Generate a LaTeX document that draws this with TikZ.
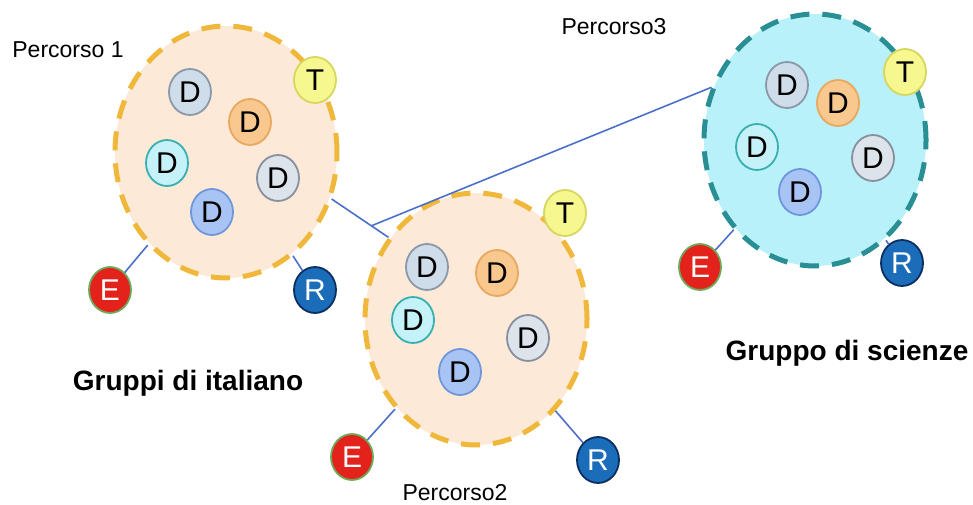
\documentclass[tikz,border=0pt]{standalone}
\usepackage{fontspec}
\setmainfont{Liberation Sans}
\usetikzlibrary{positioning,shapes.geometric,calc}

\definecolor{peach}{HTML}{FCE9D8}
\definecolor{gold}{HTML}{F0B83A}
\definecolor{skycyan}{HTML}{B8F1F9}
\definecolor{tealline}{HTML}{2A8F95}
\definecolor{linkblue}{HTML}{4C70C9}
\definecolor{greyfill}{HTML}{CFDDEB}
\definecolor{greyline}{HTML}{8A98A8}
\definecolor{orangefill}{HTML}{F9C88E}
\definecolor{orangeline}{HTML}{E8A860}
\definecolor{cyanfill}{HTML}{C4F2F8}
\definecolor{cyanline}{HTML}{3AAFB0}
\definecolor{silverfill}{HTML}{DCE3EA}
\definecolor{silverline}{HTML}{8890A0}
\definecolor{bluefill}{HTML}{A8C4F4}
\definecolor{blueline}{HTML}{6F95DA}
\definecolor{yellowfill}{HTML}{F6F78E}
\definecolor{yellowline}{HTML}{D6D660}
\definecolor{redfill}{HTML}{E3231B}
\definecolor{redline}{HTML}{6EAA5A}
\definecolor{navyfill}{HTML}{1B6DBA}
\definecolor{navyline}{HTML}{0B2F60}

\begin{document}
\begin{tikzpicture}[
    x=1pt, y=-1pt,
    group/.style={ellipse, line width=5pt, dash pattern=on 19pt off 13pt, minimum width=222pt, minimum height=252pt},
    member/.style={ellipse, line width=1.8pt, minimum width=42pt, minimum height=46pt, inner sep=0pt, font=\fontsize{30}{30}\selectfont},
    dnode/.style 2 args={member, fill=#1, draw=#2},
    teacher/.style={member, fill=yellowfill, draw=yellowline},
    enode/.style={member, fill=redfill, draw=redline, text=white},
    rnode/.style={member, fill=navyfill, draw=navyline, text=white},
    link/.style={draw=linkblue, line width=1.6pt},
    pathlabel/.style={font=\fontsize{23}{27}\selectfont},
    title/.style={font=\fontsize{28}{32}\selectfont\bfseries}
]
\useasboundingbox (0,0) rectangle (973,505);

% Groups
\node[group, draw=gold, fill=peach] (ita1) at (226,152) {};
\node[group, draw=gold, fill=peach] (ita2) at (476,319) {};
\node[group, draw=tealline, fill=skycyan] (sci) at (815,140) {};

% Members of Percorso 1
\node[dnode={greyfill}{greyline}] (ita1_d1) at (190,92) {D};
\node[dnode={orangefill}{orangeline}] (ita1_d2) at (250,122) {D};
\node[dnode={cyanfill}{cyanline}] (ita1_d3) at (167,163) {D};
\node[dnode={silverfill}{silverline}] (ita1_d4) at (278,178) {D};
\node[dnode={bluefill}{blueline}] (ita1_d5) at (212,212) {D};
\node[teacher] (ita1_t) at (315,80) {T};
\node[enode] (ita1_e) at (110,290) {E};
\node[rnode] (ita1_r) at (315,290) {R};

% Members of Percorso2
\node[dnode={greyfill}{greyline}] (ita2_d1) at (427,267) {D};
\node[dnode={orangefill}{orangeline}] (ita2_d2) at (497,273) {D};
\node[dnode={cyanfill}{cyanline}] (ita2_d3) at (413,320) {D};
\node[dnode={silverfill}{silverline}] (ita2_d4) at (528,338) {D};
\node[dnode={bluefill}{blueline}] (ita2_d5) at (460,372) {D};
\node[teacher] (ita2_t) at (565,213) {T};
\node[enode] (ita2_e) at (352,457) {E};
\node[rnode] (ita2_r) at (598,460) {R};

% Members of Percorso3
\node[dnode={greyfill}{greyline}] (sci_d1) at (787,85) {D};
\node[dnode={orangefill}{orangeline}] (sci_d2) at (838,103) {D};
\node[dnode={cyanfill}{cyanline}] (sci_d3) at (757,147) {D};
\node[dnode={silverfill}{silverline}] (sci_d4) at (873,158) {D};
\node[dnode={bluefill}{blueline}] (sci_d5) at (800,192) {D};
\node[teacher] (sci_t) at (905,72) {T};
\node[enode] (sci_e) at (700,267) {E};
\node[rnode] (sci_r) at (902,263) {R};

% Links
\draw[link] (ita1_e) -- (ita1);
\draw[link] (ita1_r) -- (ita1);
\draw[link] (ita2_e) -- (ita2);
\draw[link] (ita2_r) -- (ita2);
\draw[link] (sci_e) -- (sci);
\draw[link] (sci_r) -- (sci);
\draw[link] (ita1.-24) -- (ita2.137);
\coordinate (split) at ($(ita1.-24)!0.7!(ita2.137)$);
\draw[link] (split) -- (sci.153);

% Labels
\node[pathlabel] (lab1) at (68,50) {Percorso 1};
\node[pathlabel] (lab2) at (455,493) {Percorso2};
\node[pathlabel] (lab3) at (614,27) {Percorso3};
\node[title] (tita) at (188,383) {Gruppi di italiano};
\node[title] (tsci) at (847,353) {Gruppo di scienze};

\end{tikzpicture}
\end{document}
